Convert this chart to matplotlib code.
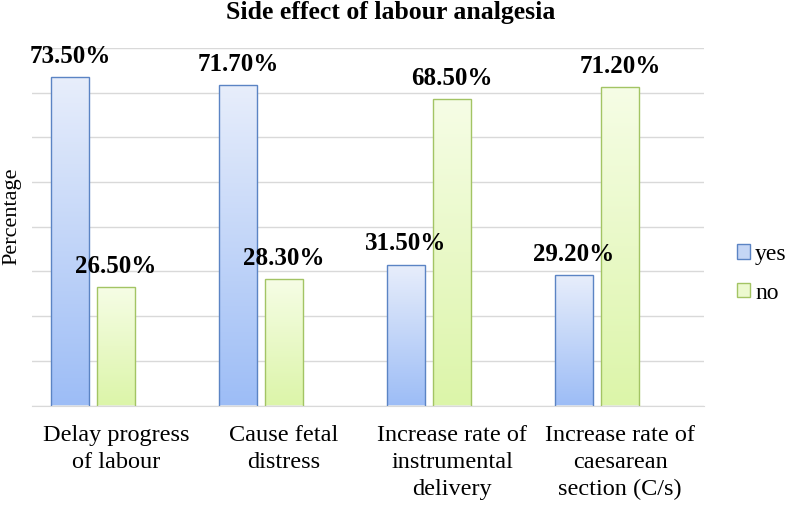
import numpy as np
import matplotlib
matplotlib.use("Agg")
import matplotlib.pyplot as plt
from matplotlib.colors import LinearSegmentedColormap
from matplotlib.patches import Patch

categories = ["Delay progress\nof labour", "Cause fetal\ndistress",
              "Increase rate of\ninstrumental\ndelivery",
              "Increase rate of\ncaesarean\nsection (C/s)"]
yes_vals = [73.5, 71.7, 31.5, 29.2]
no_vals = [26.5, 28.3, 68.5, 71.2]
series = ["yes", "no"]

plt.rcParams["font.family"] = ["Liberation Serif", "DejaVu Serif"]

blue_cm = LinearSegmentedColormap.from_list("b", ["#9dbdf6", "#e8eefb"])
green_cm = LinearSegmentedColormap.from_list("g", ["#dcf5a9", "#f6fde6"])

fig = plt.figure(figsize=(7.87, 5.05), dpi=100)
ax = fig.add_axes([32/787, 99.5/505, 672/787, 357.5/505])

x = np.arange(len(categories))
w = 38/168
off = [-(38+8)/168, 0.0]
grad = np.linspace(0, 1, 256).reshape(-1, 1)

for vals, o, cm, ec in [(yes_vals, off[0], blue_cm, "#5b84c4"),
                        (no_vals, off[1], green_cm, "#a3c464")]:
    bars = ax.bar(x + o, vals, w, facecolor="none", edgecolor=ec, lw=1.0, zorder=3)
    for b, v in zip(bars, vals):
        im = ax.imshow(grad, cmap=cm, origin="lower", aspect="auto", zorder=2,
                       extent=[b.get_x(), b.get_x() + w, 0, v])
        im.set_clip_path(b)
        ax.annotate(f"{v:.2f}%", (b.get_x() + w/2, v), xytext=(0, 15),
                    textcoords="offset points", ha="center", va="center",
                    fontsize=18, fontweight="bold", zorder=5)

ax.set_xlim(-0.5, 3.5)
ax.set_ylim(0, 80)
ax.set_yticks(np.arange(0, 81, 10))
ax.yaxis.grid(True, color="#d9d9d9", lw=1.0, zorder=0)
ax.set_axisbelow(True)
ax.tick_params(axis="y", length=0, labelleft=False)
ax.set_xticks(x)
ax.set_xticklabels(categories, fontsize=17.5, linespacing=1.38)
ax.tick_params(axis="x", length=0, pad=14)
for s in ["top", "right", "left"]:
    ax.spines[s].set_visible(False)
ax.spines["bottom"].set_color("#d9d9d9")

fig.text(12/787, 1 - 216/505, "Percentage", rotation=90, ha="center", va="center",
         fontsize=16)
fig.text(0.496, 0.975, "Side effect of labour analgesia", ha="center", va="center",
         fontsize=18.5, fontweight="bold")

handles = [Patch(facecolor="#c5d6f5", edgecolor="#5b84c4"),
           Patch(facecolor="#ecf9cf", edgecolor="#a3c464")]
fig.legend(handles, series, loc="center left", bbox_to_anchor=(0.925, 0.458),
           frameon=False, fontsize=17, handlelength=0.55, handleheight=0.55,
           handletextpad=0.2, labelspacing=0.75, borderaxespad=0)

fig.savefig("out.png", dpi=100)
